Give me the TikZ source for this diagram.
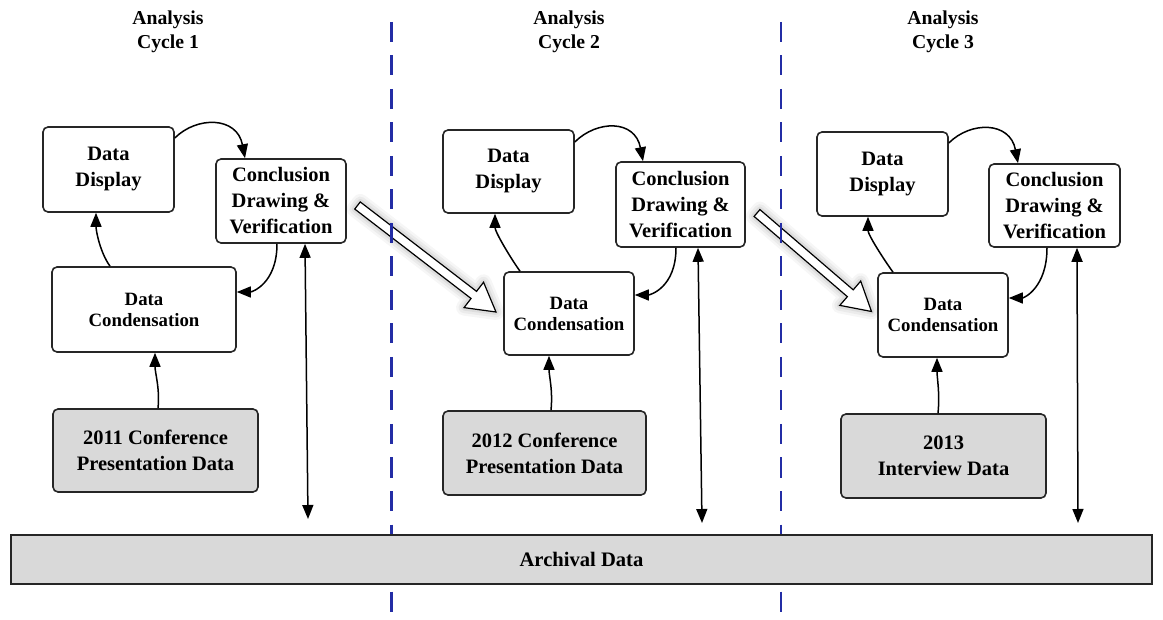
\documentclass[tikz,border=0pt]{standalone}
\usepackage{fontspec}
\setmainfont{Liberation Serif}
\usetikzlibrary{arrows.meta,calc}
\definecolor{divblue}{RGB}{35,45,165}
\definecolor{boxgray}{RGB}{217,217,217}
\newcommand{\hollowarrow}[2]{%
  \path ($(#2)!28pt!(#1)$) coordinate (hb);
  \path ($(#1)!4.5pt!90:(#2)$) coordinate (s1)
        ($(#1)!4.5pt!-90:(#2)$) coordinate (s2)
        ($(hb)!4.5pt!90:(#2)$) coordinate (h1)
        ($(hb)!4.5pt!-90:(#2)$) coordinate (h2)
        ($(hb)!16pt!90:(#2)$) coordinate (w1)
        ($(hb)!16pt!-90:(#2)$) coordinate (w2);
  \foreach \lw/\op in {16/0.035,11/0.045,6/0.06}{%
    \draw[line width=\lw pt, black, opacity=\op, line join=round]
      (s1)--(h1)--(w1)--(#2)--(w2)--(h2)--(s2)--cycle;}
  \filldraw[fill=white, draw=black, line width=1.2pt, line join=miter]
    (s1)--(h1)--(w1)--(#2)--(w2)--(h2)--(s2)--cycle;
}
\begin{document}
\begin{tikzpicture}[x=1pt,y=-1pt,
  box/.style={draw=black!85, line width=1.6pt, rounded corners=5pt, fill=white,
    align=center, inner sep=0pt, font=\bfseries\fontsize{20.5}{26}\selectfont},
  condbox/.style={box, font=\bfseries\fontsize{18.8}{21}\selectfont},
  srcbox/.style={box, fill=boxgray},
  title/.style={align=center, inner sep=0pt, font=\bfseries\fontsize{19.7}{24.5}\selectfont},
  arr/.style={line width=1.5pt, -{Triangle[length=14pt,width=11pt]}},
  darr/.style={line width=1.5pt, {Triangle[length=14pt,width=11pt]}-{Triangle[length=14pt,width=11pt]}},
  divider/.style={draw=divblue, line width=2.3pt, dash pattern=on 20pt off 13.5pt}
]
\useasboundingbox (0,0) rectangle (1163,620);

% block arrows (below the dividers)
\coordinate (ba1s) at (357.5,205.5);
\coordinate (ba1e) at (496,312);
\coordinate (ba2s) at (757,213);
\coordinate (ba2e) at (871.5,311.5);
\hollowarrow{ba1s}{ba1e}
\hollowarrow{ba2s}{ba2e}

% dividers
\coordinate (d1t) at (391.5,22);  \coordinate (d1b) at (391.5,620);
\coordinate (d2t) at (781,22);    \coordinate (d2b) at (781,620);
\draw[divider] (d1t) -- (d1b);
\draw[divider] (d2t) -- (d2b);

% titles
\node[title] (t1) at (168,32) {Analysis\\Cycle 1};
\node[title] (t2) at (569,32) {Analysis\\Cycle 2};
\node[title] (t3) at (943,32) {Analysis\\Cycle 3};

% archival
\node[draw=black!85, line width=1.6pt, fill=boxgray, minimum width=1141pt, minimum height=49pt,
  inner sep=0pt, font=\bfseries\fontsize{20.6}{24}\selectfont] (arch) at (581.5,559.5) {Archival Data};

% cycle 1
\node[box, minimum width=131pt, minimum height=85pt] (disp1) at (108.5,169.5) {Data\\Display};
\node[box, minimum width=130pt, minimum height=84pt] (conc1) at (281,201) {Conclusion\\Drawing \&\\Verification};
\node[condbox, minimum width=184pt, minimum height=85pt] (cond1) at (144,309.5) {Data\\Condensation};
\node[srcbox, minimum width=205pt, minimum height=83pt] (src1) at (155.5,450.5) {2011 Conference\\Presentation Data};

\draw[arr] ([xshift=-34pt]cond1.north) .. controls +(-10,-14) and +(0,18) .. ([xshift=-12.5pt]disp1.south);
\draw[arr] ([yshift=31.5pt]disp1.east) .. controls +(22,-22) and +(-8,-42) .. ([xshift=-36pt]conc1.north);
\draw[arr] ([xshift=-4pt]conc1.south) .. controls +(0,40) and +(15,0) .. ([yshift=17.5pt]cond1.east);
\draw[arr] ([xshift=2.5pt]src1.north) .. controls +(2,-20) and +(0,20) .. ([xshift=11pt]cond1.south);
\coordinate (v1b) at (308,519);
\draw[darr] ([xshift=24pt]conc1.south) -- (v1b);

% cycle 2
\node[box, minimum width=131pt, minimum height=83pt] (disp2) at (508.5,171.5) {Data\\Display};
\node[box, minimum width=129pt, minimum height=85pt] (conc2) at (680.5,204.5) {Conclusion\\Drawing \&\\Verification};
\node[condbox, minimum width=130pt, minimum height=83pt] (cond2) at (569,313.5) {Data\\Condensation};
\node[srcbox, minimum width=203pt, minimum height=84pt] (src2) at (544.5,453) {2012 Conference\\Presentation Data};

\draw[arr] ([xshift=-49pt]cond2.north) .. controls +(-10,-14) and +(0,18) .. ([xshift=-13.5pt]disp2.south);
\draw[arr] ([yshift=29.5pt]disp2.east) .. controls +(22,-22) and +(-8,-42) .. ([xshift=-37.5pt]conc2.north);
\draw[arr] ([xshift=-4.5pt]conc2.south) .. controls +(0,40) and +(15,0) .. ([yshift=18.5pt]cond2.east);
\draw[arr] ([xshift=6.5pt]src2.north) .. controls +(2,-20) and +(0,20) .. ([xshift=-20pt]cond2.south);
\coordinate (v2b) at (702,523);
\draw[darr] ([xshift=17.5pt]conc2.south) -- (v2b);

% cycle 3
\node[box, minimum width=131pt, minimum height=84pt] (disp3) at (882.5,174) {Data\\Display};
\node[box, minimum width=131pt, minimum height=83pt] (conc3) at (1054.5,205.5) {Conclusion\\Drawing \&\\Verification};
\node[condbox, minimum width=130pt, minimum height=84pt] (cond3) at (943,315) {Data\\Condensation};
\node[srcbox, minimum width=205pt, minimum height=84pt] (src3) at (943.5,456) {2013\\Interview Data};

\draw[arr] ([xshift=-50pt]cond3.north) .. controls +(-10,-14) and +(0,18) .. ([xshift=-14.5pt]disp3.south);
\draw[arr] ([yshift=31pt]disp3.east) .. controls +(22,-22) and +(-8,-42) .. ([xshift=-36.5pt]conc3.north);
\draw[arr] ([xshift=-7.5pt]conc3.south) .. controls +(0,40) and +(15,0) .. ([yshift=17pt]cond3.east);
\draw[arr] ([xshift=-5.5pt]src3.north) .. controls +(2,-20) and +(0,20) .. ([xshift=-6pt]cond3.south);
\coordinate (v3b) at (1078,523);
\draw[darr] ([xshift=22.5pt]conc3.south) -- (v3b);
\end{tikzpicture}
\end{document}
